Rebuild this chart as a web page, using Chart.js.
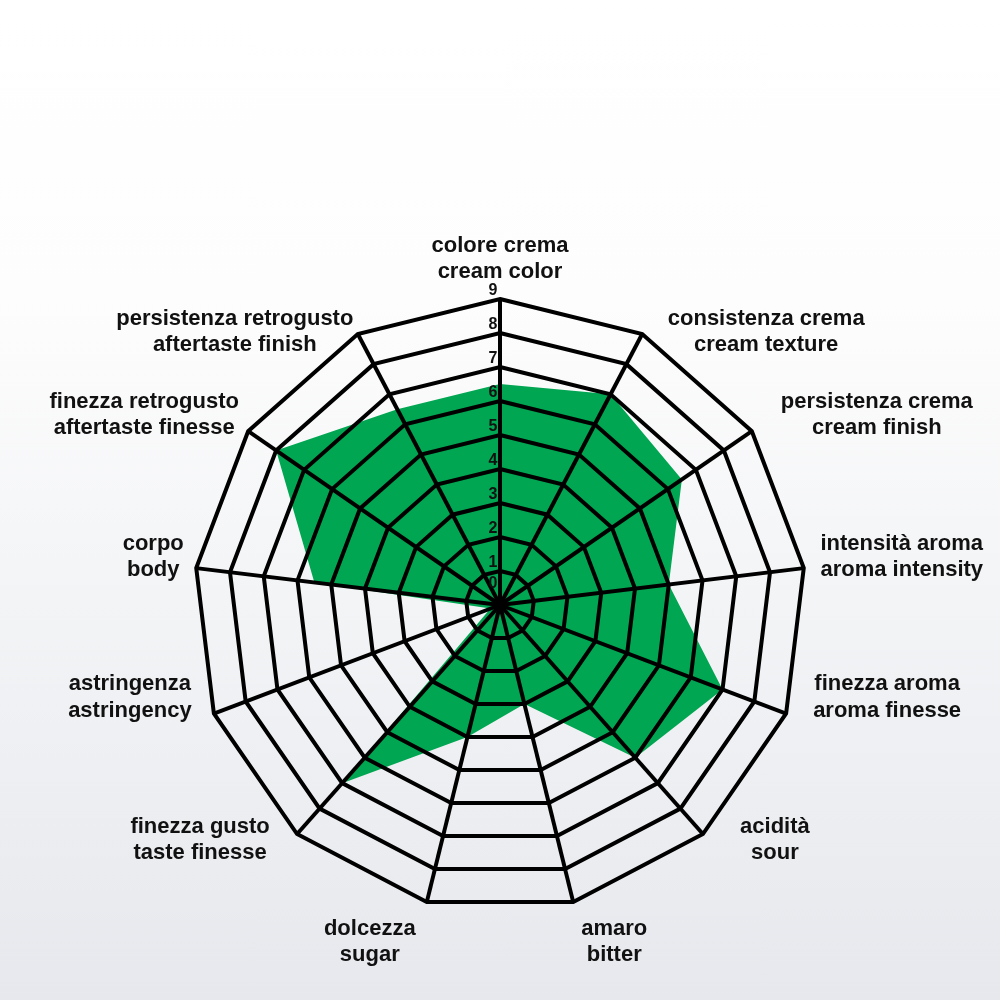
<!DOCTYPE html>
<html><head><meta charset="utf-8">
<script src="https://cdn.jsdelivr.net/npm/chart.js@4.4.1/dist/chart.umd.min.js"></script>
<style>
html,body{margin:0;padding:0;}
body{width:1000px;height:1000px;overflow:hidden;background:linear-gradient(to bottom,#ffffff 0%,#fdfdfd 30%,#f3f4f6 60%,#e7e8ed 100%);}
#wrap{position:absolute;left:0;top:0;width:1000px;height:1000px;}
</style></head><body>
<div id="wrap"><canvas id="c" width="1000" height="1000"></canvas></div>
<script>
// ---- data ----
const categoriesIt = ['colore crema','consistenza crema','persistenza crema','intensità aroma','finezza aroma','acidità','amaro','dolcezza','finezza gusto','astringenza','corpo','finezza retrogusto','persistenza retrogusto'];
const categoriesEn = ['cream color','cream texture','cream finish','aroma intensity','aroma finesse','sour','bitter','sugar','taste finesse','astringency','body','aftertaste finesse','aftertaste finish'];
const scores = [6.5, 7, 6.5, 5, 7, 6, 3, 4, 7, 0.3, 5.5, 8, 6.5];
const tickLabels = ['0','1','2','3','4','5','6','7','8','9'];

// ---- layout (not data) ----
const CENTER_X = 500, CENTER_Y = 605, RADIUS = 306;
const LABEL_FONT = {family:'"Liberation Sans", Arial, sans-serif', size:22, weight:'bold', lineHeight:1.2};
const labelOffsets = [[0,-40],[124,-2],[125,-16],[98,-11],[101,-16],[72,6],[41,40],[-57,40],[-97,6],[-84,-16],[-43,-11],[-104,-16],[-123,-2]];

const labels = categoriesIt.map((c,i)=>[c, categoriesEn[i]]);

function placeScale(scale){
  scale.xCenter = CENTER_X;
  scale.yCenter = CENTER_Y;
  scale.drawingArea = RADIUS;
  const ctx = scale.ctx;
  ctx.save();
  ctx.font = `${LABEL_FONT.weight} ${LABEL_FONT.size}px ${LABEL_FONT.family}`;
  const lh = LABEL_FONT.size * LABEL_FONT.lineHeight;
  scale._pointLabelItems = scale._pointLabels.map((lbl,i)=>{
    const lines = Array.isArray(lbl) ? lbl : [lbl];
    const w = Math.max(...lines.map(l=>ctx.measureText(l).width));
    const h = lines.length * lh;
    const p = scale.getPointPosition(i, RADIUS);
    const cx = p.x + labelOffsets[i][0], cy = p.y + labelOffsets[i][1];
    return {visible:true, x:cx, y:cy - h/2, textAlign:'center', left:cx - w/2, right:cx + w/2, top:cy - h/2, bottom:cy + h/2};
  });
  ctx.restore();
}

const tickLabelPlugin = {
  id:'tickLabelPlugin',
  afterDraw(chart){
    const s = chart.scales.r, ctx = chart.ctx;
    ctx.save();
    ctx.font = 'bold 16px "Liberation Sans", Arial, sans-serif';
    ctx.fillStyle = '#111';
    ctx.textAlign = 'center';
    ctx.textBaseline = 'middle';
    s.ticks.forEach((t,i)=>{
      const d = s.getDistanceFromCenterForValue(t.value);
      const r = Math.max(d + 8, 21);
      ctx.fillText(tickLabels[i] !== undefined ? tickLabels[i] : String(t.value), s.xCenter - 7, s.yCenter - r);
    });
    ctx.restore();
  }
};

new Chart(document.getElementById('c'), {
  type:'radar',
  data:{
    labels: labels,
    datasets:[{
      data: scores,
      fill: true,
      backgroundColor:'#00a651',
      borderWidth:0,
      pointRadius:0,
      pointHoverRadius:0
    }]
  },
  options:{
    responsive:false,
    animation:false,
    devicePixelRatio:1,
    plugins:{legend:{display:false}, tooltip:{enabled:false}},
    scales:{
      r:{
        min:0, max:9,
        ticks:{stepSize:1, display:false, z:1},
        grid:{color:'#000', lineWidth:4, circular:false, z:1},
        angleLines:{color:'#000', lineWidth:4},
        pointLabels:{color:'#111', font:LABEL_FONT},
        afterFit: placeScale
      }
    }
  },
  plugins:[tickLabelPlugin]
});
</script>
</body></html>
